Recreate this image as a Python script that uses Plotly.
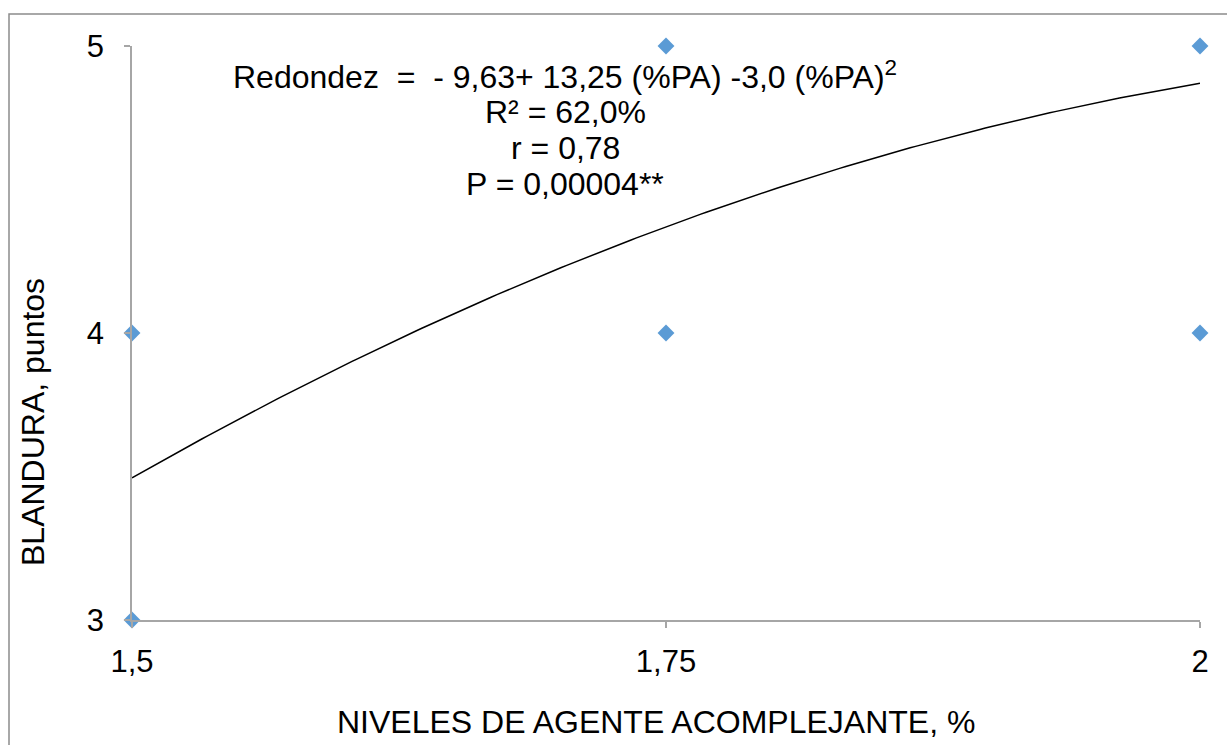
import numpy as np
import plotly.graph_objects as go

# Data
x_points = [1.5, 1.5, 1.75, 1.75, 2.0, 2.0]
y_points = [4, 3, 5, 4, 5, 4]
# Trendline coefficients shown on the chart: y = c0 + c1*x + c2*x^2
trend_coef = [-9.63, 13.25, -3.0]
x_ticks = [1.5, 1.75, 2.0]
x_tick_labels = ["1,5", "1,75", "2"]
y_ticks = [3, 4, 5]
y_tick_labels = ["3", "4", "5"]
eq_lines = [
    "Redondez  =  - 9,63+ 13,25 (%PA) -3,0 (%PA)<sup>2</sup>",
    "R² = 62,0%",
    "r = 0,78",
    "P = 0,00004**",
]
x_title = "NIVELES DE AGENTE ACOMPLEJANTE, %"
y_title = "BLANDURA, puntos"

xs = np.linspace(min(x_points), max(x_points), 200)
ys = trend_coef[0] + trend_coef[1] * xs + trend_coef[2] * xs ** 2

W, H = 1227, 745
L, R, T, B = 132, 27, 46, 125
pw, ph = W - L - R, H - T - B

fig = go.Figure()
fig.add_trace(go.Scatter(x=xs, y=ys, mode="lines",
                         line=dict(color="black", width=1.5),
                         hoverinfo="skip", showlegend=False, cliponaxis=False))
fig.add_trace(go.Scatter(x=x_points, y=y_points, mode="markers",
                         marker=dict(symbol="diamond", size=13, color="#5B9BD5",
                                     line=dict(width=0)),
                         showlegend=False, cliponaxis=False))

font = "Liberation Sans, Arial, sans-serif"
TS = 31
AS = 32
fig.update_layout(
    width=W, height=H,
    margin=dict(l=L, r=R, t=T, b=B),
    paper_bgcolor="white", plot_bgcolor="white",
    font=dict(family=font, size=TS, color="black"),
    xaxis=dict(range=[1.5, 2.0], tickvals=x_ticks, ticktext=x_tick_labels,
               showgrid=False, zeroline=False, showline=True,
               linecolor="#A6A6A6", linewidth=1.5,
               ticks="outside", ticklen=6, tickcolor="#A6A6A6", tickwidth=1.5,
               ticklabelstandoff=7, tickfont=dict(size=TS)),
    yaxis=dict(range=[3, 5], tickvals=y_ticks, ticktext=y_tick_labels,
               showgrid=False, zeroline=False, showline=True,
               linecolor="#A6A6A6", linewidth=1.5,
               ticks="outside", ticklen=6, tickcolor="#A6A6A6", tickwidth=1.5,
               ticklabelstandoff=14, tickfont=dict(size=TS)),
)

# Outer chart border (extends beyond the right and bottom edges)
fig.add_shape(type="rect", xref="paper", yref="paper",
              x0=(9 - L) / pw, x1=(W + 20 - L) / pw,
              y0=-(H + 20 - T - ph) / ph, y1=(T + ph - 14) / ph,
              line=dict(color="#8C8C8C", width=1.5), fillcolor="rgba(0,0,0,0)",
              layer="below")

# Equation annotation lines
line_y = [75, 112, 148, 184]
for txt, yy in zip(eq_lines, line_y):
    fig.add_annotation(text=txt, xref="paper", yref="paper",
                       x=(565 - L) / pw, y=(T + ph - yy) / ph,
                       xanchor="center", yanchor="middle", showarrow=False,
                       font=dict(size=AS, family=font, color="black"))

# Axis titles
fig.add_annotation(text=x_title, xref="paper", yref="paper",
                   x=(656 - L) / pw, y=(T + ph - 722) / ph,
                   xanchor="center", yanchor="middle", showarrow=False,
                   font=dict(size=AS, family=font, color="black"))
fig.add_annotation(text=y_title, xref="paper", yref="paper",
                   x=(33 - L) / pw, y=(T + ph - 422) / ph,
                   xanchor="center", yanchor="middle", showarrow=False, textangle=-90,
                   font=dict(size=AS, family=font, color="black"))

fig.write_html("out.html")
